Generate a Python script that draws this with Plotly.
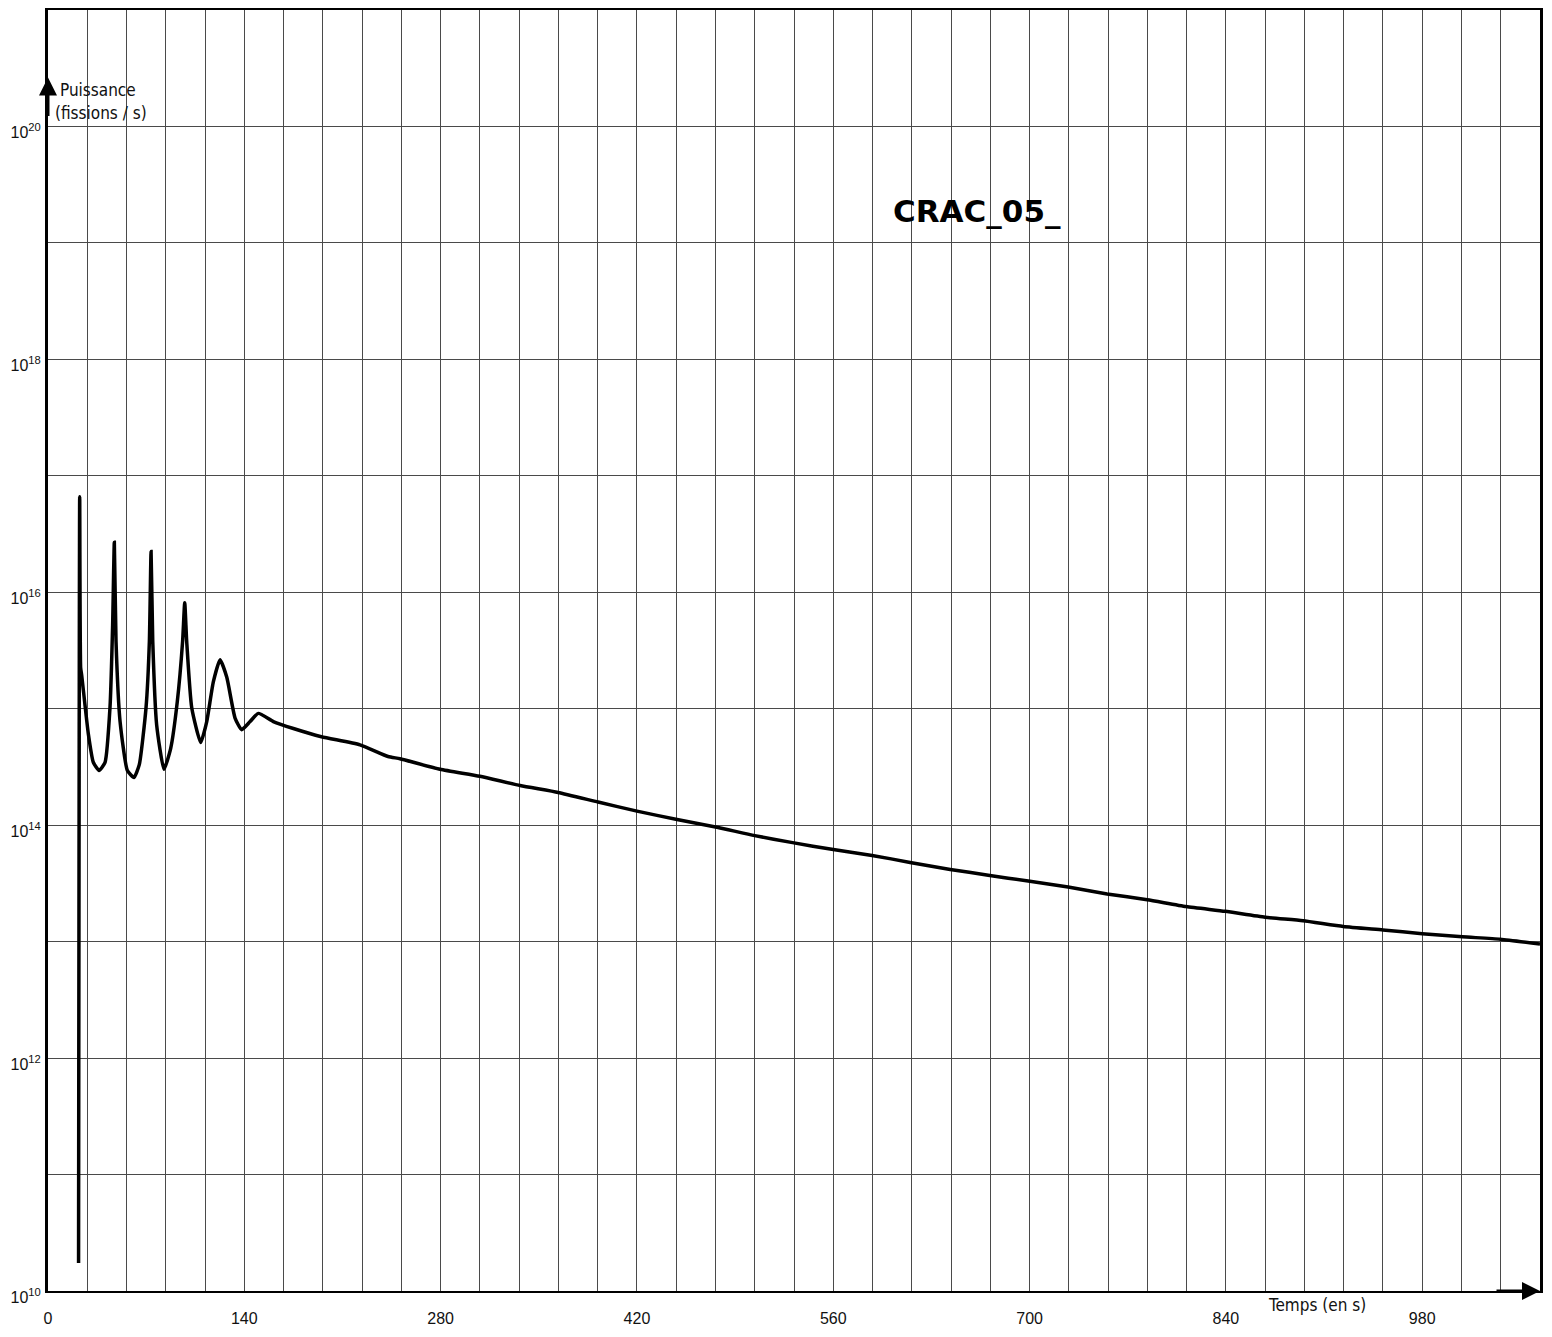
import plotly.graph_objects as go

# ---- data ----
temps_s = [21.8, 22.6, 23.3, 24.0, 28.8, 32.3, 36.4, 40.7, 44.2, 46.1, 47.3, 48.5, 51.4, 56.6,
           61.3, 65.1, 69.9, 72.3, 73.5, 74.7, 77.5, 82.7, 87.5, 92.2, 96.0, 97.5, 98.9, 102.5,
           108.9, 113.2, 117.9, 122.7, 127.5, 133.4, 138.1, 144.1, 150.0, 160.7, 175.0, 195.0,
           222.5, 242.5, 251.0, 279.6, 308.0, 336.7, 363.8, 392.3, 420.0, 448.6, 477.9, 504.0,
           531.0, 560.0, 587.7, 614.8, 643.4, 670.5, 699.0, 727.5, 755.3, 783.9, 811.7, 839.5,
           868.0, 895.0, 923.7, 952.0, 980.0, 1008.6, 1035.7, 1064.0]
puissance = [1.74e10, 6.61e16, 2.24e15, 1.95e15, 6.03e14, 3.47e14, 2.95e14, 3.47e14, 1.02e15,
             5.25e15, 2.69e16, 3.80e15, 7.76e14, 2.95e14, 2.57e14, 3.31e14, 1.02e15, 3.80e15,
             2.24e16, 3.80e15, 7.24e14, 3.02e14, 4.57e14, 1.15e15, 3.80e15, 8.13e15, 3.80e15,
             1.02e15, 5.13e14, 7.76e14, 1.70e15, 2.63e15, 1.86e15, 8.32e14, 6.61e14, 7.76e14,
             9.12e14, 7.76e14, 6.76e14, 5.75e14, 4.90e14, 3.89e14, 3.72e14, 3.02e14, 2.63e14,
             2.19e14, 1.91e14, 1.58e14, 1.32e14, 1.12e14, 9.55e13, 8.13e13, 7.08e13, 6.17e13,
             5.50e13, 4.79e13, 4.17e13, 3.72e13, 3.31e13, 2.95e13, 2.57e13, 2.29e13, 2.00e13,
             1.82e13, 1.62e13, 1.51e13, 1.35e13, 1.26e13, 1.17e13, 1.10e13, 1.05e13, 9.55e12]

x_grid_step = 28
x_max = 1064
x_label_values = [0, 140, 280, 420, 560, 700, 840, 980]
y_decades = list(range(10, 22))
y_label_decades = [10, 12, 14, 16, 18, 20]

x_minor_vals = [v for v in range(0, x_max + 1, x_grid_step) if v not in x_label_values]
y_tickvals = [10.0 ** d for d in y_label_decades]
y_ticktext = ["10<sup>%d</sup>" % d for d in y_label_decades]
y_minor_vals = [10.0 ** d for d in y_decades if d not in y_label_decades]

font_main = "Liberation Sans Narrow, DejaVu Sans Condensed, Arial Narrow, sans-serif"
font_num = "Liberation Sans, Arial, sans-serif"
grid_col = "#4a4a4a"

# page has an 8px body margin: figure is sized to fit inside the window
OFF = 8
W, H = 1552 - 2 * OFF, 1337 - 2 * OFF
# plot area in page pixels: x 48..1540, y 10..1291
L, T = 48 - OFF, 10 - OFF
R, B = W - (1540 - OFF), H - (1291 - OFF)
pw, ph = W - L - R, H - T - B

fig = go.Figure()
fig.add_trace(go.Scatter(x=temps_s, y=puissance, mode="lines",
                         line=dict(color="black", width=3.5, shape="spline", smoothing=0.5),
                         showlegend=False, hoverinfo="x+y"))

fig.update_layout(
    width=W, height=H,
    margin=dict(l=L, r=R, t=T, b=B, autoexpand=False),
    paper_bgcolor="white", plot_bgcolor="white",
    showlegend=False,
    xaxis=dict(range=[0, x_max], tickmode="array", tickvals=x_label_values,
               ticktext=[str(v) for v in x_label_values],
               showgrid=True, gridcolor=grid_col, gridwidth=1,
               minor=dict(tickmode="array", tickvals=x_minor_vals, showgrid=True,
                          gridcolor=grid_col, gridwidth=1, ticks=""),
               showline=True, linecolor="black", linewidth=2, mirror=True,
               ticks="", zeroline=False, automargin=False,
               tickfont=dict(family=font_num, size=16, color="#111"),
               ticklabelstandoff=12),
    yaxis=dict(type="log", range=[10, 21], tickmode="array", tickvals=y_tickvals,
               ticktext=y_ticktext,
               showgrid=True, gridcolor=grid_col, gridwidth=1,
               minor=dict(tickmode="array", tickvals=y_minor_vals, showgrid=True,
                          gridcolor=grid_col, gridwidth=1, ticks=""),
               showline=True, linecolor="black", linewidth=3, mirror=True,
               ticks="", zeroline=False, automargin=False,
               tickfont=dict(family=font_num, size=16, color="#111"),
               ticklabelshift=6, ticklabelstandoff=1),
)

annotations = [
    # y axis arrow
    dict(x=0, y=20.42, xref="x", yref="y", ax=0, ay=40,
         showarrow=True, arrowhead=2, arrowsize=1.2, arrowwidth=3, arrowcolor="black", text=""),
    # x axis arrow
    dict(x=x_max, y=10, xref="x", yref="y", ax=-45, ay=0,
         showarrow=True, arrowhead=2, arrowsize=1.2, arrowwidth=3, arrowcolor="black", text=""),
    dict(x=58, y=90, xref="paper", yref="paper", text="Puissance", showarrow=False,
         font=dict(family=font_main, size=17, color="#111"), xanchor="left", yanchor="middle"),
    dict(x=53, y=113, xref="paper", yref="paper", text="(fissions / s)", showarrow=False,
         font=dict(family=font_main, size=17, color="#111"), xanchor="left", yanchor="middle"),
    dict(x=1317, y=1305, xref="paper", yref="paper", text="Temps (en s)", showarrow=False,
         font=dict(family=font_main, size=17, color="#111"), xanchor="center", yanchor="middle"),
    dict(x=977, y=211, xref="paper", yref="paper", text="CRAC_05_", showarrow=False,
         font=dict(family="DejaVu Sans, sans-serif", size=31, color="black", weight="bold"),
         xanchor="center", yanchor="middle"),
]

# convert page pixel positions for the paper annotations
for a in annotations:
    if a.get("xref") == "paper":
        a["x"] = (a["x"] - OFF - L) / pw
        a["y"] = 1 - (a["y"] - OFF - T) / ph
fig.update_layout(annotations=annotations)

fig.write_html("out.html")
